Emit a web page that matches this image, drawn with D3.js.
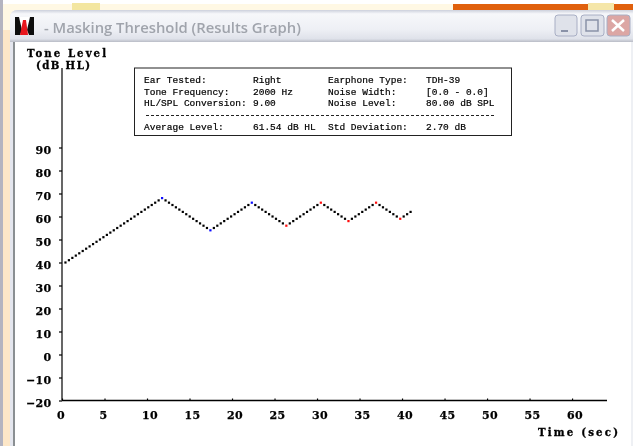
<!DOCTYPE html>
<html><head><meta charset="utf-8">
<script src="https://cdn.jsdelivr.net/npm/d3@7"></script>
<style>html,body{margin:0;padding:0;background:#fff;overflow:hidden}svg{display:block}</style>
</head><body><svg id="c" width="633" height="446"></svg>
<script>
const windowTitle = "- Masking Threshold (Results Graph)";
const xTicks = [0,5,10,15,20,25,30,35,40,45,50,55,60];
const yTicks = [-20,-10,0,10,20,30,40,50,60,70,80,90];
const levels = [40,41,42,43,44,45,46,47,48,49,50,51,52,53,54,55,56,57,58,59,60,61,62,63,64,65,66,67,68,
  67,66,65,64,63,62,61,60,59,58,57,56,55,54,
  55,56,57,58,59,60,61,62,63,64,65,66,
  65,64,63,62,61,60,59,58,57,56,
  57,58,59,60,61,62,63,64,65,66,
  65,64,63,62,61,60,59,58,
  59,60,61,62,63,64,65,66,
  65,64,63,62,61,60,59,
  60,61,62];
const stepSeconds = 0.406;
const bluePoints = [28,42,54];
const redPoints = [64,74,82,90,97];
const infoLeft = [["Ear Tested:","Right"],["Tone Frequency:","2000 Hz"],["HL/SPL Conversion:","9.00"]];
const infoRight = [["Earphone Type:","TDH-39"],["Noise Width:","[0.0 - 0.0]"],["Noise Level:","80.00 dB SPL"]];
const summary = [["Average Level:","61.54 dB HL"],["Std Deviation:","2.70 dB"]];

const svg = d3.select("#c");
const defs = svg.append("defs");
defs.append("filter").attr("id","soft").append("feGaussianBlur").attr("stdDeviation",0.35);
const tg = defs.append("linearGradient").attr("id","tb").attr("x1",0).attr("x2",0).attr("y1",0).attr("y2",1);
[[0,"#ccd0dc"],[0.12,"#f6f7fa"],[0.6,"#eef0f5"],[0.9,"#dfe2ea"],[1,"#b9bcc6"]].forEach(s=>tg.append("stop").attr("offset",s[0]).attr("stop-color",s[1]));

// desktop behind the window
const chrome = svg.append("g").attr("filter","url(#soft)");
chrome.append("rect").attr("width",633).attr("height",446).attr("fill","#fff8e4");
chrome.append("rect").attr("width",633).attr("height",4).attr("fill","#ffffff");
chrome.append("rect").attr("x",453).attr("y",4).attr("width",180).attr("height",6).attr("fill","#e06008");
chrome.append("rect").attr("x",588).attr("y",3).attr("width",26).attr("height",7).attr("fill","#f5e6a8");
chrome.append("rect").attr("x",72).attr("y",3).attr("width",28).attr("height",7).attr("fill","#f3e6a0");
chrome.append("rect").attr("x",0).attr("y",0).attr("width",3).attr("height",446).attr("fill","#b4b4c0");
chrome.append("rect").attr("x",3).attr("y",30).attr("width",7).attr("height",416).attr("fill","#fde7c8");
// window frame
chrome.append("path").attr("d","M10 446V18Q10 10 18 10H633V446Z").attr("fill","#e4e6ee");
chrome.append("path").attr("d","M10 42V18Q10 10 18 10H633V42Z").attr("fill","url(#tb)");
chrome.append("rect").attr("x",13).attr("y",42).attr("width",2).attr("height",404).attr("fill","#8a8f92");
chrome.append("rect").attr("x",15).attr("y",42).attr("width",616).attr("height",404).attr("fill","#ffffff");
chrome.append("rect").attr("x",631).attr("y",42).attr("width",2).attr("height",404).attr("fill","#eef0f4");
// app icon
chrome.append("rect").attr("x",15).attr("y",17).attr("width",19).attr("height",18).attr("fill","#111");
chrome.append("path").attr("d","M19 17L22 30L20 35H29L27 30L30 17Z").attr("fill","#fff");
chrome.append("path").attr("d","M23 20L26 20L28 35H20Z").attr("fill","#e8141c");
// caption buttons
const btn=(x,w,f)=>chrome.append("rect").attr("x",x).attr("y",15).attr("width",w).attr("height",21).attr("rx",3).attr("fill",f).attr("stroke","#a8aec4");
btn(555,22,"#dfe2ea");btn(581,23,"#dfe2ea");btn(607,23,"#dca6a4");
chrome.append("rect").attr("x",561).attr("y",30).attr("width",7).attr("height",2).attr("fill","#8a92a8");
chrome.append("rect").attr("x",586).attr("y",20).attr("width",12).attr("height",11).attr("fill","none").attr("stroke","#8a92a8").attr("stroke-width",1.5);
chrome.append("path").attr("d","M612 20L624 31M624 20L612 31").attr("stroke","#fff").attr("stroke-width",2.5);
chrome.append("text").attr("x",44).attr("y",33).attr("font-family","'Open Sans','Noto Sans',sans-serif").attr("font-weight",600).attr("font-size",14.8).attr("fill","#a0a4ac").text(windowTitle);

// plot
const x = d3.scaleLinear().domain([0,64.7]).range([62,612]);
const y = d3.scaleLinear().domain([-20,90]).range([400.5,147.5]);
const plot = svg.append("g").attr("filter","url(#soft)");
const slab = "'DejaVu Serif','Liberation Mono',monospace";

const xAxis = plot.append("g").attr("transform","translate(0,400.5)")
  .call(d3.axisBottom(x).tickValues(xTicks).tickSize(-2).tickSizeOuter(0));
const yAxis = plot.append("g").attr("transform","translate(62,0)")
  .call(d3.axisLeft(y).tickValues(yTicks).tickSize(3).tickSizeOuter(0));
xAxis.select(".domain").attr("stroke-width",1.3).attr("d","M62,0H607");
yAxis.select(".domain").attr("stroke-width",1.2).attr("d","M0,400.5V68");
[xAxis,yAxis].forEach(a=>{
  a.selectAll(".tick line").attr("stroke","#000").attr("stroke-width",1.2);
  a.selectAll("text").attr("font-family",slab).attr("font-weight",700).attr("font-size",11).attr("letter-spacing",0.3).attr("stroke","#000").attr("stroke-width",0.25).attr("fill","#000");
});
xAxis.selectAll("text").attr("text-anchor","start").attr("x",-5.5).attr("y",18).attr("dy",0);
yAxis.selectAll("text").attr("text-anchor","end").attr("x",-10.5).attr("y",6).attr("dy",0);

const lbl=(t,px,py,len)=>plot.append("text").attr("x",px).attr("y",py).attr("textLength",len)
  .attr("font-family",slab).attr("font-weight",700).attr("font-size",10.2).attr("stroke","#000").attr("stroke-width",0.3).attr("fill","#000").text(t);
lbl("Tone Level",27,57,79);
lbl("(dB HL)",36,69,54);
lbl("Time (sec)",538,436,80);

// info box
const box = svg.append("g").attr("filter","url(#soft)");
box.append("rect").attr("x",134.5).attr("y",68).attr("width",377).attr("height",67.5).attr("fill","#fff").attr("stroke","#222").attr("stroke-width",1);
const txt=(t,px,py)=>box.append("text").attr("x",px).attr("y",py).attr("font-family","'Liberation Mono',monospace").attr("font-size",9.5).attr("stroke","#000").attr("stroke-width",0.2).attr("fill","#000").text(t);
const rowY=[83,95,106];
infoLeft.forEach((r,i)=>{txt(r[0],144,rowY[i]);txt(r[1],253,rowY[i]);});
infoRight.forEach((r,i)=>{txt(r[0],328,rowY[i]);txt(r[1],426,rowY[i]);});
box.append("line").attr("x1",146).attr("x2",494).attr("y1",115.5).attr("y2",115.5).attr("stroke","#222").attr("stroke-dasharray","3 2");
txt(summary[0][0],144,130);txt(summary[0][1],253,130);
txt(summary[1][0],328,130);txt(summary[1][1],426,130);

// data dots
const colour=i=>bluePoints.includes(i)?"#0a0aff":redPoints.includes(i)?"#ff0a0a":"#000";
plot.append("g").selectAll("rect").data(levels).join("rect")
  .attr("x",(d,i)=>x((i+1)*stepSeconds)-1.1).attr("y",d=>y(d)-1.1)
  .attr("width",2.2).attr("height",2.2).attr("fill",(d,i)=>colour(i));
</script></body></html>
